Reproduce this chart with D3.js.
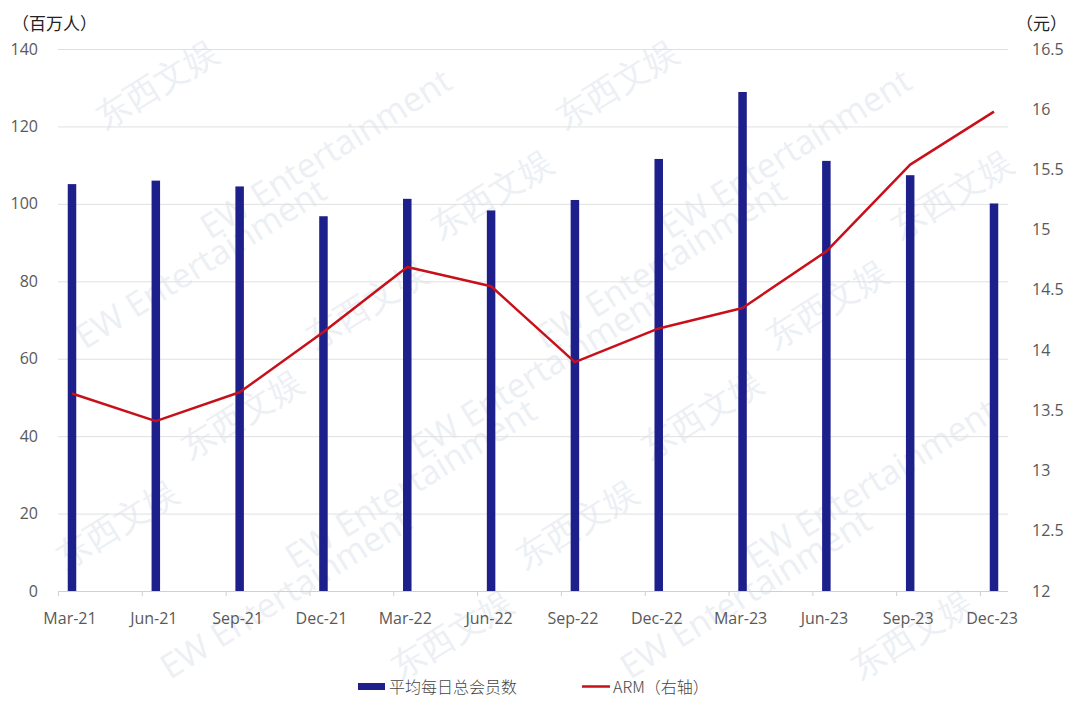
<!DOCTYPE html>
<html>
<head>
<meta charset="utf-8">
<script src="https://cdn.jsdelivr.net/npm/d3@7"></script>
<style>
  body { margin: 0; background: #fff; }
  svg { display: block; }
  .tick-lbl { font-family: "Open Sans", "Liberation Sans", sans-serif; font-size: 16px; fill: #595959; }
</style>
</head>
<body>
<div id="chart"></div>
<script>
// data
var quarters = ["Mar-21", "Jun-21", "Sep-21", "Dec-21", "Mar-22", "Jun-22",
                "Sep-22", "Dec-22", "Mar-23", "Jun-23", "Sep-23", "Dec-23"];
var members = [105.1, 106.0, 104.5, 96.8, 101.3, 98.3, 101.0, 111.6, 128.9, 111.1, 107.4, 100.1];
var arm = [13.64, 13.41, 13.65, 14.15, 14.69, 14.53, 13.90, 14.18, 14.35, 14.82, 15.54, 15.98];
var leftTicks = [0, 20, 40, 60, 80, 100, 120, 140];
var rightTicks = [12, 12.5, 13, 13.5, 14, 14.5, 15, 15.5, 16, 16.5];

var width = 1080, height = 716;
var svg = d3.select("#chart").append("svg")
    .attr("width", width)
    .attr("height", height);

// watermark (only keep copies that fit inside the picture)
var wm = svg.append("g");
for (var r = -4; r < 9; r++) {
    for (var c = -2; c < 6; c++) {
        var wx = c * 230 + r * 105, wy = r * 110 + 20;
        var t = wm.append("text")
            .attr("transform", "translate(" + wx + "," + wy + ") rotate(-32)")
            .attr("font-family", "Open Sans, sans-serif")
            .attr("font-size", 34)
            .attr("fill", "#eceff4")
            .text((r + c + 20) % 2 ? "东西文娱" : "EW Entertainment");
        var b = t.node().getBoundingClientRect();
        if (b.left < 0 || b.top < 0 || b.right > width || b.bottom > height) t.remove();
    }
}

var plotLeft = 58, plotRight = 1008, plotTop = 49, plotBottom = 591;

var x = d3.scalePoint()
    .domain(quarters)
    .range([72, 994]);

var yL = d3.scaleLinear().domain([0, 140]).range([plotBottom, plotTop]);
var yR = d3.scaleLinear().domain([12, 16.5]).range([plotBottom, plotTop]);

// gridlines
svg.append("g").selectAll("line")
    .data(leftTicks)
    .enter().append("line")
    .attr("x1", plotLeft).attr("x2", plotRight)
    .attr("y1", function(d) { return yL(d) + 0.5; })
    .attr("y2", function(d) { return yL(d) + 0.5; })
    .attr("stroke", function(d) { return d === 0 ? "#d0d0d0" : "#e0e0e0"; })
    .attr("stroke-width", 1);

// small category ticks
svg.append("g").selectAll("line")
    .data(quarters)
    .enter().append("line")
    .attr("x1", function(d) { return x(d) - 13.5; })
    .attr("x2", function(d) { return x(d) - 13.5; })
    .attr("y1", plotBottom)
    .attr("y2", plotBottom + 5)
    .attr("stroke", "#d0d0d0");

// left axis labels
svg.append("g").selectAll("text")
    .data(leftTicks)
    .enter().append("text")
    .attr("class", "tick-lbl")
    .attr("x", 38)
    .attr("y", function(d) { return yL(d); })
    .attr("dy", "0.35em")
    .attr("text-anchor", "end")
    .text(function(d) { return d; });

// right axis labels
svg.append("g").selectAll("text")
    .data(rightTicks)
    .enter().append("text")
    .attr("class", "tick-lbl")
    .attr("x", 1032)
    .attr("y", function(d) { return yR(d); })
    .attr("dy", "0.35em")
    .attr("text-anchor", "start")
    .text(function(d) { return d; });

// category labels
svg.append("g").selectAll("text")
    .data(quarters)
    .enter().append("text")
    .attr("class", "tick-lbl")
    .attr("x", function(d) { return x(d) - 2; })
    .attr("y", 618)
    .attr("dy", "0.35em")
    .attr("text-anchor", "middle")
    .text(function(d) { return d; });

// unit labels
svg.append("text")
    .attr("x", 12).attr("y", 24).attr("dy", "0.35em")
    .attr("font-family", "Noto Sans CJK SC, sans-serif")
    .attr("font-size", 17).attr("fill", "#222")
    .text("（百万人）");
svg.append("text")
    .attr("x", 1016).attr("y", 24).attr("dy", "0.35em")
    .attr("font-family", "Noto Sans CJK SC, sans-serif")
    .attr("font-size", 17).attr("fill", "#222")
    .text("（元）");

// bars
var barW = 8.5;
svg.append("g").selectAll("rect")
    .data(members)
    .enter().append("rect")
    .attr("x", function(d, i) { return x(quarters[i]) - barW / 2; })
    .attr("y", function(d) { return yL(d); })
    .attr("width", barW)
    .attr("height", function(d) { return plotBottom - yL(d); })
    .attr("fill", "#1d1f8a");

// ARM line
var line = d3.line()
    .x(function(d, i) { return x(quarters[i]); })
    .y(function(d) { return yR(d); });

svg.append("path")
    .datum(arm)
    .attr("d", line)
    .attr("fill", "none")
    .attr("stroke", "#c8101a")
    .attr("stroke-width", 2.5)
    .attr("stroke-linejoin", "round");

// legend
var leg = svg.append("g");
leg.append("rect")
    .attr("x", 358).attr("y", 683).attr("width", 27).attr("height", 7)
    .attr("fill", "#1d1f8a");
leg.append("text")
    .attr("x", 389).attr("y", 687).attr("dy", "0.35em")
    .attr("font-family", "Noto Sans CJK SC, sans-serif")
    .attr("font-weight", 300)
    .attr("font-size", 16).attr("fill", "#444")
    .text("平均每日总会员数");
leg.append("line")
    .attr("x1", 582).attr("x2", 610).attr("y1", 686.5).attr("y2", 686.5)
    .attr("stroke", "#c8101a").attr("stroke-width", 2.5);
leg.append("text")
    .attr("x", 613).attr("y", 687).attr("dy", "0.35em")
    .attr("font-family", "Noto Sans CJK SC, sans-serif")
    .attr("font-weight", 300)
    .attr("font-size", 16).attr("fill", "#444")
    .text("ARM（右轴）");
</script>
</body>
</html>
